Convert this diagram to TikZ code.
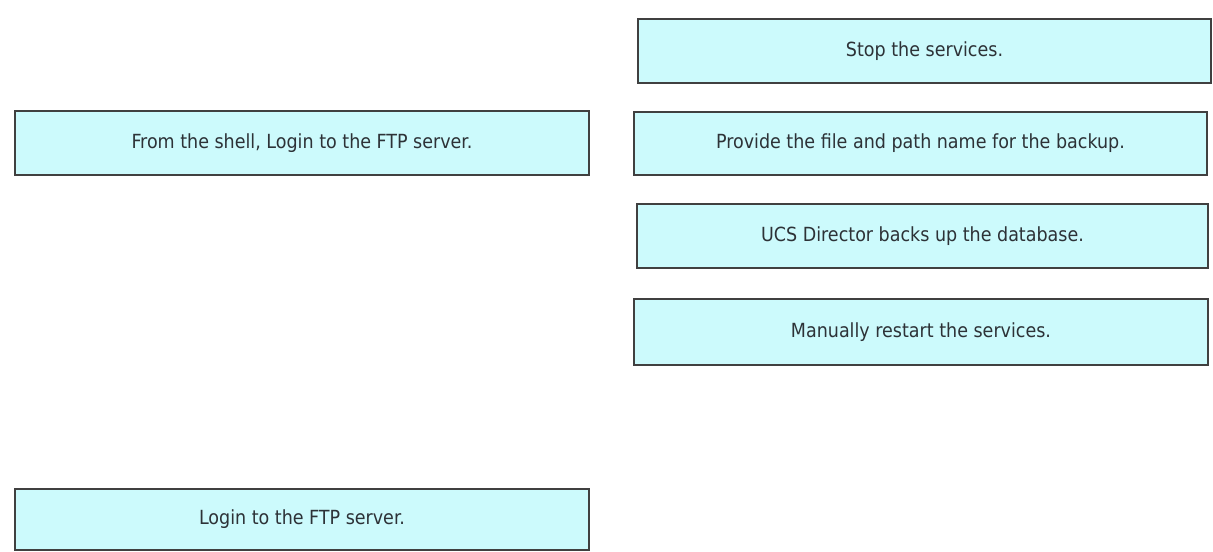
\documentclass[tikz,border=0pt]{standalone}
\usepackage{fontspec}
\setmainfont{DejaVu Sans Condensed}
\definecolor{boxfill}{RGB}{204,250,252}
\definecolor{boxline}{RGB}{64,64,64}
\definecolor{txt}{RGB}{45,50,55}
\begin{document}
\begin{tikzpicture}[x=0.75pt,y=-0.75pt,
  stepbox/.style={draw=boxline, fill=boxfill, line width=1.1pt, inner sep=0pt,
    text=txt, font=\fontsize{14.6}{16}\selectfont, anchor=center}]
\useasboundingbox (0,0) rectangle (1213,551);
\node[stepbox, minimum width=574*0.75pt, minimum height=64*0.75pt] (from) at (302,143) {From the shell, Login to the FTP server.};
\node[stepbox, minimum width=574*0.75pt, minimum height=61*0.75pt] (login) at (302,519.5) {Login to the FTP server.};
\node[stepbox, minimum width=573*0.75pt, minimum height=64*0.75pt] (stop) at (924.5,51) {Stop the services.};
\node[stepbox, minimum width=573*0.75pt, minimum height=63*0.75pt] (provide) at (920.5,143.5) {Provide the file and path name for the backup.};
\node[stepbox, minimum width=571*0.75pt, minimum height=64*0.75pt] (ucs) at (922.5,236) {UCS Director backs up the database.};
\node[stepbox, minimum width=574*0.75pt, minimum height=66*0.75pt] (manual) at (921,332) {Manually restart the services.};
\end{tikzpicture}
\end{document}
